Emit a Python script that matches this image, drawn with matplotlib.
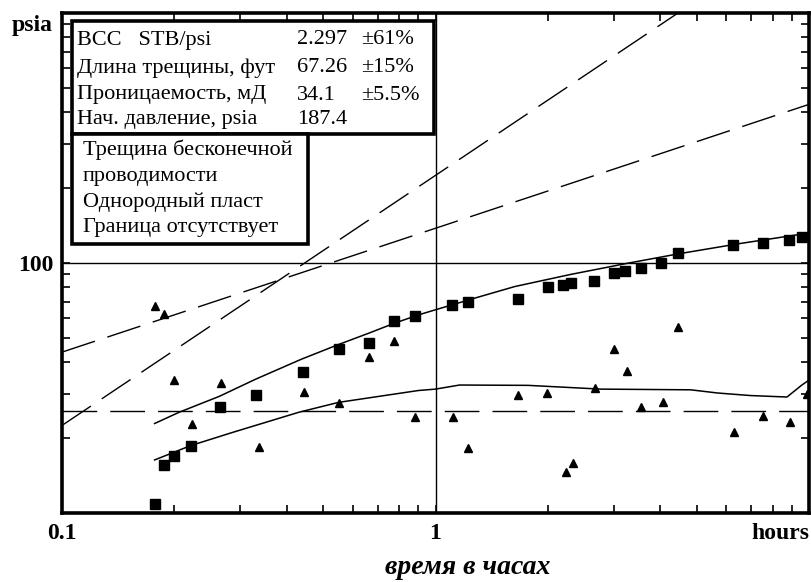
import matplotlib
matplotlib.use('Agg')
import matplotlib.pyplot as plt
from matplotlib.patches import Rectangle

# данные: давление (квадраты) и производная (треугольники), часы
sq_t = [0.177, 0.1875, 0.20, 0.221, 0.265, 0.331, 0.442, 0.553, 0.663, 0.773,
        0.883, 1.105, 1.22, 1.66, 2.0, 2.19, 2.31, 2.65, 3.0, 3.22, 3.54,
        4.01, 4.45, 6.25, 7.52, 8.82, 9.57]
sq_p = [10.9, 15.5, 16.9, 18.6, 26.5, 29.6, 36.7, 45.3, 47.7, 58.5,
        61.5, 68.0, 69.7, 71.8, 80.2, 81.6, 83.0, 84.7, 91.2, 92.9, 95.8,
        100.0, 109.6, 118.4, 120.2, 123.6, 126.7]

tri_t = [0.177, 0.1875, 0.199, 0.223, 0.266, 0.336, 0.444, 0.55, 0.665, 0.776,
         0.883, 1.117, 1.22, 1.66, 1.99, 2.23, 2.34, 2.68, 3.0, 3.26, 3.56,
         4.07, 4.45, 6.3, 7.52, 8.87, 9.88]
tri_d = [67.5, 62.5, 34.1, 22.8, 33.1, 18.3, 30.6, 27.5, 42.0, 48.6,
         24.1, 24.1, 18.2, 29.6, 30.2, 14.6, 15.9, 31.6, 45.3, 36.9, 26.5,
         27.9, 55.6, 21.1, 24.5, 23.1, 29.9]

# модельные кривые
pm_t = [0.177, 0.206, 0.264, 0.33, 0.437, 0.55, 0.663, 0.773, 0.9, 1.0,
        1.3, 1.63, 2.3, 3.33, 4.5, 6.5, 9.9]
pm_p = [22.8, 25.3, 29.3, 34.3, 41.2, 47.2, 52.4, 57.3, 62.0, 65.0,
        73.0, 80.5, 90.0, 100.3, 109.0, 119.5, 131.5]

dm_t = [0.177, 0.221, 0.286, 0.431, 0.55, 0.9, 1.0, 1.16, 1.77, 2.77,
        4.82, 5.69, 6.97, 8.73, 9.57, 10.0]
dm_d = [16.3, 18.6, 21.0, 25.3, 27.7, 30.9, 31.3, 32.5, 32.4, 31.3,
        31.1, 30.2, 29.5, 29.1, 32.5, 34.0]

# прямые: единичный наклон, наклон 1/2, радиальный поток
ws_t = [0.1, 4.46]
ws_p = [22.4, 1000.0]
hs_t = [0.1, 10.0]
hs_p = [44.0, 431.0]
radial_level = 25.5

x_ticks = [0.1, 1, 10]
x_labels = ['0.1', '1', 'hours']
y_ticks = [10, 100, 1000]
y_labels = ['', '100', '']
y_unit = 'psia'

info_rows = [('ВСС   STB/psi', '2.297', '±61%'),
             ('Длина трещины, фут', '67.26', '±15%'),
             ('Проницаемость, мД', '34.1', '±5.5%'),
             ('Нач. давление, psia', '187.4', '')]
model_rows = ['Трещина бесконечной', 'проводимости',
              'Однородный пласт', 'Граница отсутствует']

plt.rcParams['lines.scale_dashes'] = False
W, H = 811, 582
fig = plt.figure(figsize=(W / 100, H / 100), dpi=100)
ax = fig.add_axes([62 / W, 1 - 513 / H, (809 - 62) / W, (513 - 13) / H])
ax.set_xscale('log')
ax.set_yscale('log')
ax.set_xlim(0.1, 10)
ax.set_ylim(10, 1000)

dash = (0, (25, 9.4))
ax.axvline(1, color='black', lw=1.0)
ax.axhline(100, color='black', lw=1.0)
ax.axhline(radial_level, color='black', lw=1.0, linestyle=dash)
ax.plot(ws_t, ws_p, color='black', lw=1.0, linestyle=dash)
ax.plot(hs_t, hs_p, color='black', lw=1.0, linestyle=dash)
ax.plot(pm_t, pm_p, color='black', lw=1.1)
ax.plot(dm_t, dm_d, color='black', lw=1.1)
ax.plot(sq_t, sq_p, 's', color='black', ms=6.5, zorder=5)
ax.plot(tri_t, tri_d, '^', color='black', ms=6.3, zorder=5)

for s in ax.spines.values():
    s.set_linewidth(2.6)

ax.set_xticks(x_ticks)
ax.set_xticklabels(x_labels)
ax.set_yticks(y_ticks)
ax.set_yticklabels(y_labels)
ax.tick_params(which='both', direction='in', top=True, right=True,
               length=6, width=1.2)
ax.tick_params(axis='x', pad=7)
ax.tick_params(axis='y', pad=6)
for lab in ax.get_xticklabels() + ax.get_yticklabels():
    lab.set_fontfamily('Liberation Serif')
    lab.set_fontweight('bold')
    lab.set_fontsize(17)
ax.get_xticklabels()[2].set_ha('right')

fig.text(53 / W, 1 - 25 / H, y_unit, ha='right', va='center',
         fontfamily='Liberation Serif', fontweight='bold', fontsize=17)
fig.text(468 / W, 1 - 568 / H, 'время в часах', ha='center', va='center',
         fontfamily='Liberation Serif', fontstyle='italic', fontweight='bold',
         fontsize=20)

# рамки с параметрами
def box(x0, y0, x1, y1):
    r = Rectangle((x0 / W, 1 - y1 / H), (x1 - x0) / W, (y1 - y0) / H,
                  transform=fig.transFigure, facecolor='white',
                  edgecolor='black', lw=2.6, zorder=10)
    fig.add_artist(r)

box(72, 21, 434, 134)
box(72, 134, 308, 244)

font = dict(fontfamily='Liberation Serif', fontsize=16, va='center', zorder=11)
row_y = [40, 68, 95, 120]
for (name, val, err), y in zip(info_rows, row_y):
    fig.text(77 / W, 1 - y / H, name, **font)
    fig.text(297 / W, 1 - y / H, val, **font)
    fig.text(361 / W, 1 - y / H, err, **font)

model_y = [150, 177, 202, 228]
for txt, y in zip(model_rows, model_y):
    fig.text(83 / W, 1 - y / H, txt, **font)

fig.savefig('out.png', dpi=100)
